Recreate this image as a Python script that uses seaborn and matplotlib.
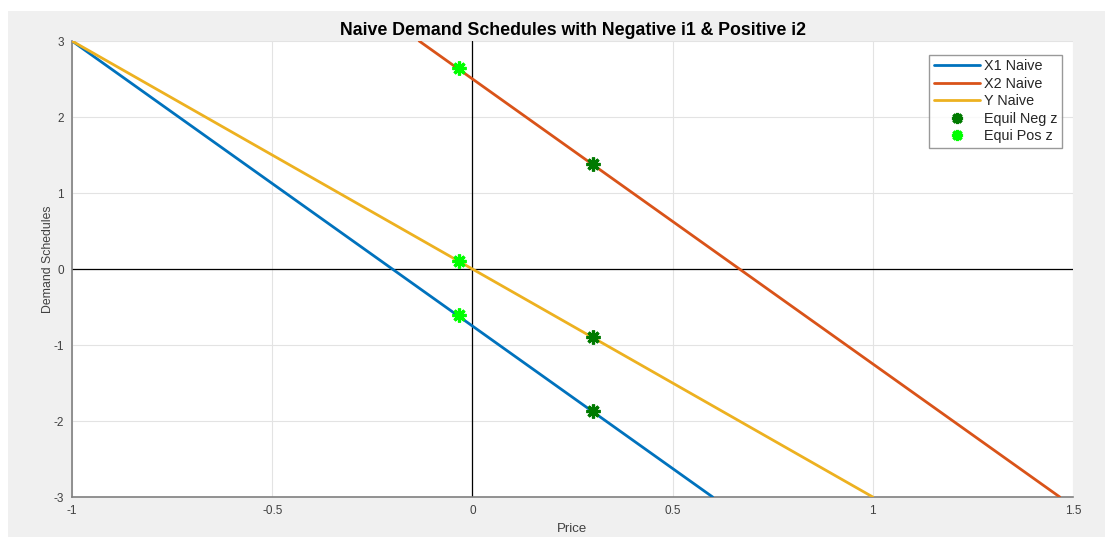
import numpy as np
import pandas as pd
import matplotlib
matplotlib.use("Agg")
import matplotlib.pyplot as plt
import seaborn as sns
from matplotlib.patches import Rectangle
from matplotlib.lines import Line2D

# Naive demand schedules (straight lines, given by their end points)
x1_price = [-1.0, 0.6]
x1_demand = [3.0, -3.0]
x2_price = [-0.133, 1.467]
x2_demand = [3.0, -3.0]
y_price = [-1.0, 1.0]
y_demand = [3.0, -3.0]

# Equilibrium points
neg_price = [0.30, 0.30, 0.30]
neg_demand = [1.38, -0.90, -1.87]
pos_price = [-0.033, -0.033, -0.033]
pos_demand = [2.65, 0.11, -0.60]

x_ticks = [-1, -0.5, 0, 0.5, 1, 1.5]
x_tick_labels = ["-1", "-0.5", "0", "0.5", "1", "1.5"]
y_ticks = [-3, -2, -1, 0, 1, 2, 3]
y_tick_labels = ["-3", "-2", "-1", "0", "1", "2", "3"]

sns.set_style("white")
plt.rcParams["font.family"] = ["Liberation Sans", "DejaVu Sans"]

fig = plt.figure(figsize=(11.05, 5.37), dpi=100, facecolor="white")
fig.patches.append(Rectangle((8 / 1105, 0), 1 - 8 / 1105, 1 - 11 / 537,
                             transform=fig.transFigure, facecolor="#f0f0f0",
                             edgecolor="none", zorder=-10))
ax = fig.add_axes([72 / 1105, 1 - 497 / 537, (1073 - 72) / 1105, (497 - 41) / 537])
ax.set_facecolor("white")

lines = pd.concat([
    pd.DataFrame({"Price": x1_price, "Demand": x1_demand, "Series": "X1 Naive"}),
    pd.DataFrame({"Price": x2_price, "Demand": x2_demand, "Series": "X2 Naive"}),
    pd.DataFrame({"Price": y_price, "Demand": y_demand, "Series": "Y Naive"}),
])
palette = {"X1 Naive": "#0072BD", "X2 Naive": "#D95319", "Y Naive": "#EDB120"}

ax.axhline(0, color="black", lw=0.9, zorder=1)
ax.axvline(0, color="black", lw=0.9, zorder=1)

sns.lineplot(data=lines, x="Price", y="Demand", hue="Series", palette=palette,
             linewidth=2, ax=ax, zorder=3, legend=False)

star = (8, 2, 0)
ax.plot(neg_price, neg_demand, linestyle="none", marker=star, markersize=10,
        markeredgewidth=2.3, color="#007a00", zorder=4)
ax.plot(pos_price, pos_demand, linestyle="none", marker=star, markersize=10,
        markeredgewidth=2.3, color="#00ff00", zorder=4)

ax.set_xlim(-1, 1.5)
ax.set_ylim(-3, 3)
ax.set_xticks(x_ticks)
ax.set_xticklabels(x_tick_labels)
ax.set_yticks(y_ticks)
ax.set_yticklabels(y_tick_labels)
ax.grid(True, color="#e3e3e3", lw=0.8)
ax.set_axisbelow(True)
for side in ["top", "right"]:
    ax.spines[side].set_visible(False)
for side in ["left", "bottom"]:
    ax.spines[side].set_color("#808080")
    ax.spines[side].set_linewidth(1.2)
ax.tick_params(direction="in", length=5, width=1, colors="#808080",
               labelcolor="#404040", labelsize=8.5, pad=6)

ax.set_title("Naive Demand Schedules with Negative i1 & Positive i2",
             fontsize=12.8, fontweight="bold", color="black", pad=4)
ax.set_xlabel("Price", fontsize=9.5, color="#404040", labelpad=4)
ax.set_ylabel("Demand Schedules", fontsize=8.8, color="#404040")
ax.yaxis.set_label_coords(-0.018, 0.522)

handles = [
    Line2D([], [], color=palette["X1 Naive"], lw=2),
    Line2D([], [], color=palette["X2 Naive"], lw=2),
    Line2D([], [], color=palette["Y Naive"], lw=2),
    Line2D([], [], linestyle="none", marker=star, markersize=8, markeredgewidth=2.3, color="#007a00"),
    Line2D([], [], linestyle="none", marker=star, markersize=8, markeredgewidth=2.3, color="#00ff00"),
]
labels = ["X1 Naive", "X2 Naive", "Y Naive", "Equil Neg z", "Equi Pos z"]
leg = ax.legend(handles, labels, loc="upper right", bbox_to_anchor=(0.989, 0.969),
                borderaxespad=0, fontsize=10.4, frameon=True, fancybox=False,
                handlelength=3.2, handletextpad=0.3, borderpad=0.3, labelspacing=0.24)
leg.get_frame().set_edgecolor("#808080")
leg.get_frame().set_linewidth(1.0)

fig.savefig("out.png", dpi=100, facecolor=fig.get_facecolor())
